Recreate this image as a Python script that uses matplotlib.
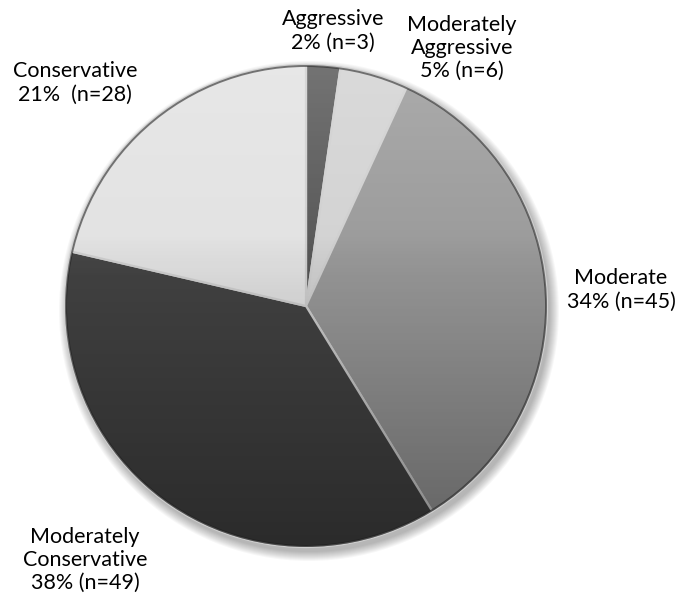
import numpy as np
import matplotlib
matplotlib.use("Agg")
import matplotlib.pyplot as plt
from matplotlib.patches import Circle

categories = ["Aggressive", "Moderately\nAggressive", "Moderate",
              "Moderately\nConservative", "Conservative"]
counts = [3, 6, 45, 49, 28]
pct_labels = ["2% (n=3)", "5% (n=6)", "34% (n=45)", "38% (n=49)", "21%  (n=28)"]
colors = ["#555555", "#d2d2d2", "#999999", "#434343", "#e2e2e2"]

W, H = 680, 602
fig = plt.figure(figsize=(W / 100, H / 100), dpi=100)
ax = fig.add_axes([0, 0, 1, 1])

cx, cy, r = 306, H - 306, 241

# soft drop shadow, offset down and to the right
for k in range(10):
    ax.add_patch(Circle((cx + 3, cy - 5), r + k * 1.0, facecolor="black",
                        edgecolor="none", alpha=0.03, zorder=1))

wedges, _ = ax.pie(counts, colors=colors, startangle=90, counterclock=False,
                   center=(cx, cy), radius=r, frame=True,
                   wedgeprops=dict(edgecolor="#cfcfcf", linewidth=1.6))
for w in wedges:
    w.set_zorder(2)
ax.set_xlim(0, W)
ax.set_ylim(0, H)
ax.set_aspect("equal")
ax.axis("off")

# subtle shading: lighter near the top, darker near the bottom
grad = np.linspace(0, 1, 256)
clip = Circle((cx, cy), r, transform=ax.transData)
light = np.zeros((256, 1, 4))
light[:, 0, :3] = 1.0
light[:, 0, 3] = np.clip(0.18 - grad * 0.4, 0, None)
dark = np.zeros((256, 1, 4))
dark[:, 0, 3] = np.clip((grad - 0.35) * 0.55, 0, None)
for layer in (light, dark):
    im = ax.imshow(layer, extent=(cx - r, cx + r, cy - r, cy + r), origin="upper",
                   aspect="auto", zorder=3, interpolation="bilinear")
    im.set_clip_path(clip)
ax.set_xlim(0, W)
ax.set_ylim(0, H)

# dark rim around the pie
ax.add_patch(Circle((cx, cy), r - 1, facecolor="none", edgecolor="#1a1a1a",
                    linewidth=1.4, alpha=0.55, zorder=4))

font = dict(family=["Lato", "DejaVu Sans"], fontsize=15.5, color="black",
            ha="center", va="center", linespacing=1.2)
label_pos = [(333, 31), (462, 48), (621, 290), (85, 560), (75, 83)]
for cat, pl, (x, y) in zip(categories, pct_labels, label_pos):
    ax.text(x, H - y, cat + "\n" + pl, **font)

fig.savefig("out.png", dpi=100)
